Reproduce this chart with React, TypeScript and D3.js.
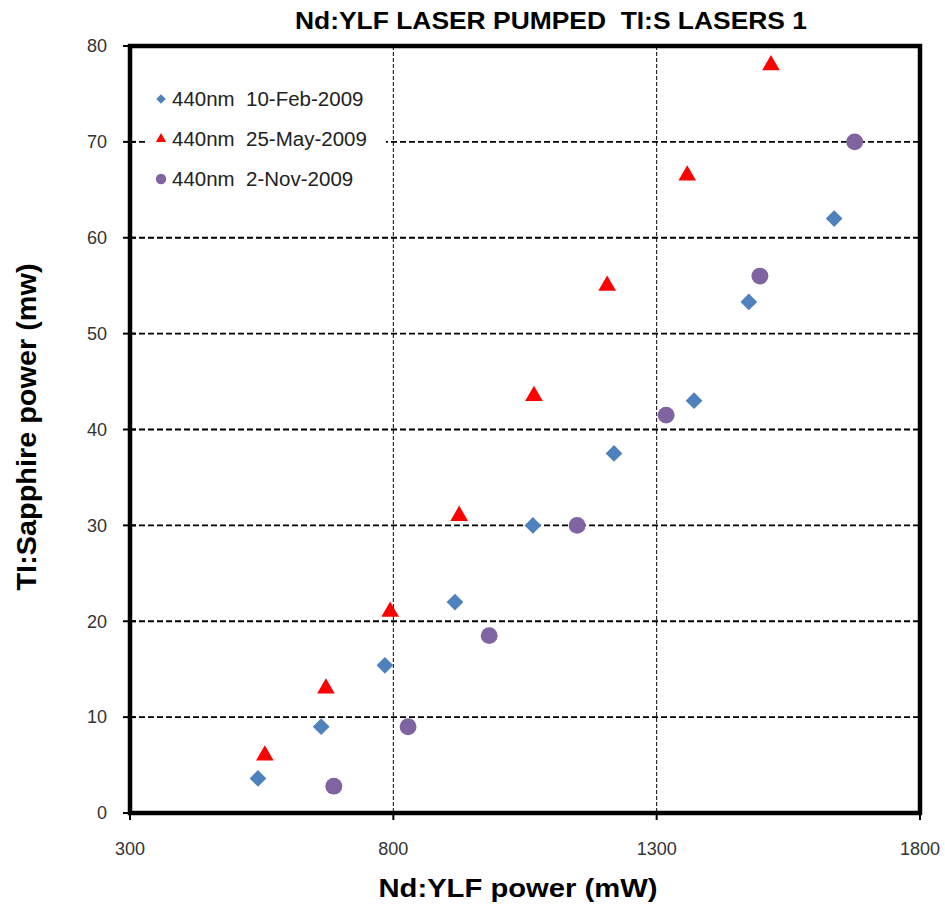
import React, { useEffect, useRef } from 'react';
import * as d3 from 'd3';

// Nd:YLF pump power (mW) vs Ti:Sapphire output (mW)
const febX = [543, 663, 784, 917, 1065, 1219, 1371, 1475, 1637];
const febY = [3.6, 9, 15.4, 22, 30, 37.5, 43, 53.3, 62];
const mayX = [556, 672, 794, 925, 1067, 1206, 1358, 1517];
const mayY = [6, 13, 21, 31, 43.5, 55, 66.5, 78];
const novX = [687, 828, 982, 1149, 1318, 1496, 1676];
const novY = [2.8, 9, 18.5, 30, 41.5, 56, 70];

const seriesNames = ['440nm  10-Feb-2009', '440nm  25-May-2009', '440nm  2-Nov-2009'];
const xTicks = [300, 800, 1300, 1800];
const yTicks = [0, 10, 20, 30, 40, 50, 60, 70, 80];

const W = 945;
const H = 912;
const FONT = '"Liberation Sans", Arial, sans-serif';

const App: React.FC = () => {
  const svgRef = useRef<SVGSVGElement>(null);

  useEffect(() => {
    document.body.style.overflow = 'hidden';
    if (!svgRef.current) return;
    const svg = d3.select(svgRef.current);
    svg.selectAll('*').remove();

    const m = { left: 130, right: 920, top: 46, bottom: 813 };
    const x = d3.scaleLinear().domain([300, 1800]).range([m.left, m.right]);
    const y = d3.scaleLinear().domain([0, 80]).range([m.bottom, m.top]);

    svg.append('rect').attr('width', W).attr('height', H).attr('fill', '#fff');

    // gridlines
    const grid = svg.append('g');
    grid.selectAll('.hg')
      .data(yTicks.filter(t => t > 0 && t < 80))
      .enter()
      .append('line')
      .attr('x1', m.left).attr('x2', m.right)
      .attr('y1', d => y(d)).attr('y2', d => y(d))
      .attr('stroke', '#000').attr('stroke-width', 1.8)
      .attr('stroke-dasharray', '6,3');
    grid.selectAll('.vg')
      .data(xTicks.filter(t => t > 300 && t < 1800))
      .enter()
      .append('line')
      .attr('y1', m.top).attr('y2', m.bottom)
      .attr('x1', d => x(d)).attr('x2', d => x(d))
      .attr('stroke', '#000').attr('stroke-width', 1)
      .attr('stroke-dasharray', '4,2');

    // legend background hides the grid behind it
    svg.append('rect')
      .attr('x', 145).attr('y', 78).attr('width', 241).attr('height', 122)
      .attr('fill', '#fff');

    // ticks
    svg.selectAll('.yt')
      .data(yTicks)
      .enter()
      .append('line')
      .attr('x1', m.left - 7).attr('x2', m.left + 6)
      .attr('y1', d => y(d)).attr('y2', d => y(d))
      .attr('stroke', '#000').attr('stroke-width', 2);
    svg.selectAll('.xt')
      .data(xTicks)
      .enter()
      .append('line')
      .attr('x1', d => x(d)).attr('x2', d => x(d))
      .attr('y1', m.bottom).attr('y2', m.bottom + 7)
      .attr('stroke', '#000').attr('stroke-width', 2);

    // frame
    svg.append('rect')
      .attr('x', m.left).attr('y', m.top)
      .attr('width', m.right - m.left).attr('height', m.bottom - m.top)
      .attr('fill', 'none').attr('stroke', '#000').attr('stroke-width', 4.5);

    // tick labels
    svg.selectAll('.yl')
      .data(yTicks)
      .enter()
      .append('text')
      .attr('x', m.left - 23)
      .attr('y', d => y(d))
      .attr('dy', '0.35em')
      .attr('text-anchor', 'end')
      .attr('font-family', FONT).attr('font-size', 18).attr('fill', '#333')
      .text(d => d);
    svg.selectAll('.xl')
      .data(xTicks)
      .enter()
      .append('text')
      .attr('x', d => x(d))
      .attr('y', 855)
      .attr('text-anchor', 'middle')
      .attr('font-family', FONT).attr('font-size', 18).attr('fill', '#333')
      .text(d => d);

    // titles
    svg.append('text')
      .attr('x', 551).attr('y', 29)
      .attr('text-anchor', 'middle')
      .attr('font-family', FONT).attr('font-size', 23).attr('font-weight', 'bold')
      .attr('textLength', 512).attr('lengthAdjust', 'spacingAndGlyphs')
      .attr('xml:space', 'preserve')
      .style('white-space', 'pre')
      .text('Nd:YLF LASER PUMPED  TI:S LASERS 1');
    svg.append('text')
      .attr('x', 518).attr('y', 897)
      .attr('text-anchor', 'middle')
      .attr('font-family', FONT).attr('font-size', 26).attr('font-weight', 'bold')
      .attr('textLength', 279).attr('lengthAdjust', 'spacingAndGlyphs')
      .text('Nd:YLF power (mW)');
    svg.append('text')
      .attr('transform', 'translate(36,427) rotate(-90)')
      .attr('text-anchor', 'middle')
      .attr('font-family', FONT).attr('font-size', 27).attr('font-weight', 'bold')
      .attr('textLength', 327).attr('lengthAdjust', 'spacingAndGlyphs')
      .text('TI:Sapphire power (mw)');

    const diamond = d3.symbol().type(d3.symbolSquare).size(140);
    const tri = d3.symbol().type(d3.symbolTriangle).size(135);
    const circ = d3.symbol().type(d3.symbolCircle).size(225);

    const series = [
      { xs: febX, ys: febY, color: '#4F81BD', path: diamond(), rot: 45 },
      { xs: mayX, ys: mayY, color: '#FF0000', path: tri(), rot: 0 },
      { xs: novX, ys: novY, color: '#8064A2', path: circ(), rot: 0 },
    ];

    series.forEach(s => {
      svg.append('g').selectAll('path')
        .data(s.xs.map((v, i) => [v, s.ys[i]]))
        .enter()
        .append('path')
        .attr('d', s.path as string)
        .attr('transform', d => `translate(${x(d[0])},${y(d[1])}) rotate(${s.rot})`)
        .attr('fill', s.color);
    });

    // legend
    const legendSym = [
      d3.symbol().type(d3.symbolSquare).size(45)(),
      d3.symbol().type(d3.symbolTriangle).size(45)(),
      d3.symbol().type(d3.symbolCircle).size(85)(),
    ];
    const lg = svg.append('g');
    seriesNames.forEach((name, i) => {
      const ly = 99 + i * 40;
      lg.append('path')
        .attr('d', legendSym[i] as string)
        .attr('transform', `translate(161,${ly}) rotate(${i === 0 ? 45 : 0})`)
        .attr('fill', series[i].color);
      lg.append('text')
        .attr('x', 172).attr('y', ly)
        .attr('dy', '0.36em')
        .attr('font-family', FONT).attr('font-size', 20.5).attr('fill', '#222')
        .attr('xml:space', 'preserve')
        .style('white-space', 'pre')
        .text(name);
    });
  }, []);

  return (
    <div style={{ position: 'absolute', left: 0, top: 0, width: W, height: H, overflow: 'hidden' }}>
      <svg ref={svgRef} width={W} height={H} viewBox={`0 0 ${W} ${H}`} style={{ display: 'block' }} />
    </div>
  );
};

export default App;
